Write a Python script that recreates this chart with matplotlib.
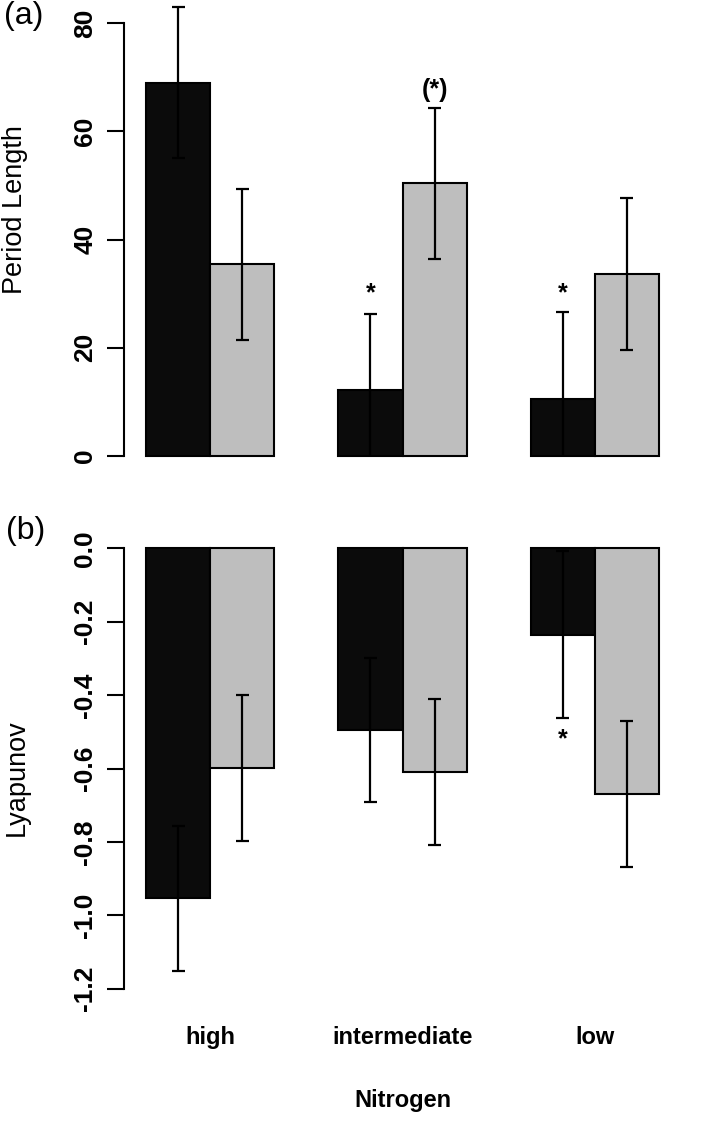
import matplotlib
matplotlib.use("Agg")
from matplotlib import pyplot as plt

plt.rcParams["font.family"] = ["Liberation Sans", "DejaVu Sans"]
plt.rcParams["axes.unicode_minus"] = False

groups = ["high", "intermediate", "low"]

# (a) period length: dark bars / grey bars, with error
period_dark = [69.0, 12.2, 10.5]
period_dark_err = [14.0, 14.0, 16.2]
period_grey = [35.4, 50.4, 33.6]
period_grey_err = [14.0, 14.0, 14.0]
period_ticks = [0, 20, 40, 60, 80]

# (b) Lyapunov exponent
lyap_dark = [-0.954, -0.496, -0.235]
lyap_dark_err = [0.197, 0.196, 0.228]
lyap_grey = [-0.599, -0.609, -0.670]
lyap_grey_err = [0.199, 0.199, 0.199]
lyap_ticks = [0.0, -0.2, -0.4, -0.6, -0.8, -1.0, -1.2]
lyap_ticklabels = ["0.0", "-0.2", "-0.4", "-0.6", "-0.8", "-1.0", "-1.2"]

# significance marks: (group index, y, text)
period_marks = [(1, 30.0, "*"), (2, 30.0, "*")]
period_grey_marks = [(1, 67.7, "(*)")]
lyap_marks = [(2, -0.52, "*")]

dark_pos = [1.5, 4.5, 7.5]
grey_pos = [2.5, 5.5, 8.5]
group_pos = [2, 5, 8]

W, H = 709, 1121
fig = plt.figure(figsize=(W / 100, H / 100), dpi=100)

x0, x1 = 0.66, 9.34
left_px = 82 + x0 * 64.1
width_px = (x1 - x0) * 64.1

ax1 = fig.add_axes([left_px / W, 1 - 474.4 / H, width_px / W, 474.0 / H])
ax2 = fig.add_axes([left_px / W, 1 - 1006.3 / H, width_px / W, 475.6 / H])


def draw_errors(ax, pos, vals, errs, floor=None):
    for x, v, e in zip(pos, vals, errs):
        lo, hi = v - e, v + e
        ax.vlines(x, max(lo, floor) if floor is not None else lo, hi,
                  color="black", lw=1.6, zorder=3)
        ax.hlines(hi, x - 0.1, x + 0.1, color="black", lw=1.6, zorder=3)
        if floor is None or lo > floor:
            ax.hlines(lo, x - 0.1, x + 0.1, color="black", lw=1.6, zorder=3)


for ax in (ax1, ax2):
    ax.set_xlim(x0, x1)
    for s in ("top", "right", "bottom"):
        ax.spines[s].set_visible(False)
    ax.spines["left"].set_linewidth(1.5)
    ax.set_xticks([])
    ax.tick_params(axis="y", length=12, width=1.5, pad=7.5)

tick_font = dict(fontweight="bold", fontsize=19)

# panel (a)
ax1.bar(dark_pos, period_dark, width=1.0, color="#0b0b0b", edgecolor="black", lw=1.5)
ax1.bar(grey_pos, period_grey, width=1.0, color="#bebebe", edgecolor="black", lw=1.5)
draw_errors(ax1, dark_pos, period_dark, period_dark_err, floor=0)
draw_errors(ax1, grey_pos, period_grey, period_grey_err, floor=0)
ax1.set_ylim(-3.4, 84.2)
ax1.spines["left"].set_bounds(0, 80)
ax1.set_yticks(period_ticks)
ax1.set_yticklabels([str(t) for t in period_ticks], rotation=90, va="center",
                    **tick_font)
for g, y, t in period_marks:
    ax1.text(dark_pos[g], y, t, ha="center", va="center", fontsize=18,
             fontweight="bold")
for g, y, t in period_grey_marks:
    ax1.text(grey_pos[g], y, t, ha="center", va="center", fontsize=18,
             fontweight="bold")

# panel (b)
ax2.bar(dark_pos, lyap_dark, width=1.0, color="#0b0b0b", edgecolor="black", lw=1.5)
ax2.bar(grey_pos, lyap_grey, width=1.0, color="#bebebe", edgecolor="black", lw=1.5)
draw_errors(ax2, dark_pos, lyap_dark, lyap_dark_err)
draw_errors(ax2, grey_pos, lyap_grey, lyap_grey_err)
ax2.set_ylim(-1.248, 0.048)
ax2.spines["left"].set_bounds(-1.2, 0.0)
ax2.set_yticks(lyap_ticks)
ax2.set_yticklabels(lyap_ticklabels, rotation=90, va="center", **tick_font)
for g, y, t in lyap_marks:
    ax2.text(dark_pos[g], y, t, ha="center", va="center", fontsize=18,
             fontweight="bold")

for p, g in zip(group_pos, groups):
    ax2.text(p, -1.248 - 31 / 367, g, ha="center", va="center", fontsize=17,
             fontweight="bold")
ax2.text(5, -1.248 - 94 / 367, "Nitrogen", ha="center", va="center",
         fontsize=17, fontweight="bold")

fig.text(24 / W, 1 - 16 / H, "(a)", ha="center", va="center", fontsize=23)
fig.text(26 / W, 1 - 531 / H, "(b)", ha="center", va="center", fontsize=23)
fig.text(15 / W, 1 - 210 / H, "Period Length", rotation=90, ha="center",
         va="center", fontsize=19.5)
fig.text(17 / W, 1 - 778 / H, "Lyapunov", rotation=90, ha="center",
         va="center", fontsize=19.5)

fig.savefig("out.png", dpi=100)
